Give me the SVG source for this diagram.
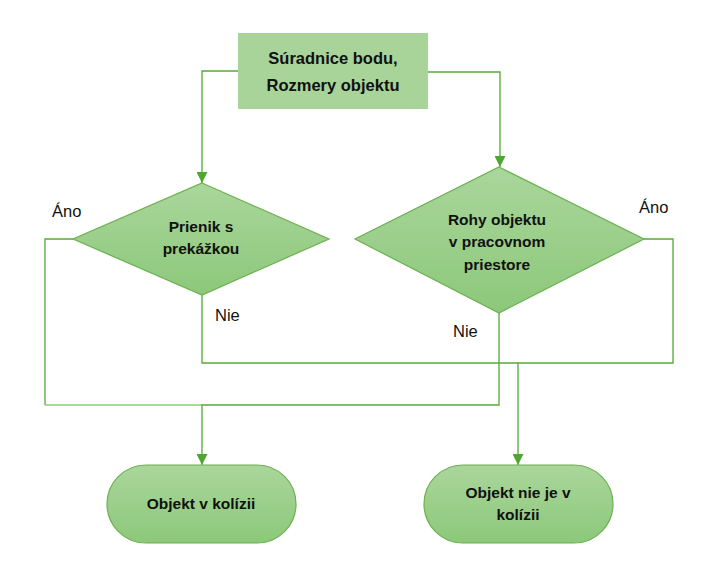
<svg xmlns="http://www.w3.org/2000/svg" width="708" height="575" viewBox="0 0 708 575">
<defs>
<linearGradient id="g" x1="0" y1="0" x2="0" y2="1">
<stop offset="0" stop-color="#aad69c"/>
<stop offset="1" stop-color="#8cc87a"/>
</linearGradient>
<marker id="ah" viewBox="0 0 10 10" refX="10" refY="5" markerWidth="11" markerHeight="11" markerUnits="userSpaceOnUse" orient="auto">
<path d="M0,0 L10,5 L0,10 z" fill="#4ea72e"/>
</marker>
<style>
.shape{fill:url(#g);stroke:#6cb04f;stroke-width:1.2}
.box{fill:#a8d49a}
.t{font-family:"Liberation Sans",Arial,sans-serif;font-weight:bold;font-size:15.5px;fill:#111;text-anchor:middle}
.t16{font-size:16.5px}
.lbl{font-family:"Liberation Sans",Arial,sans-serif;font-size:16.5px;fill:#111}
.c{fill:none;stroke:#55a93a;stroke-width:1.3}
.cl{fill:none;stroke:#8fcc78;stroke-width:1.6}
</style>
</defs>
<g id="connectors">
<polyline class="c" points="238,71 202,71 202,183" marker-end="url(#ah)"/>
<polyline class="c" points="428,72 500,72 500,167" marker-end="url(#ah)"/>
<polyline class="c" points="73,239 45,239 45,405"/>
<line class="cl" x1="45" y1="405" x2="202" y2="405"/>
<polyline class="c" points="499,313 499,405 202,405 202,465" marker-end="url(#ah)"/>
<polyline class="c" points="202,295 202,363 518,363"/>
<polyline class="c" points="644,239 673,239 673,363 518,363 518,465" marker-end="url(#ah)"/>
</g>
<g id="n-start">
<rect class="box" x="238" y="33" width="190" height="76"/>
<text class="t t16" x="333" y="64">Súradnice bodu,</text>
<text class="t t16" x="333" y="91">Rozmery objektu</text>
</g>
<g id="n-prienik">
<polygon class="shape" points="202,183 329,239 202,295 73,239"/>
<text class="t" x="201" y="232">Prienik s</text>
<text class="t" x="201" y="254">prekážkou</text>
</g>
<g id="n-rohy">
<polygon class="shape" points="499,167 644,239 499,313 355,239"/>
<text class="t" x="497" y="225">Rohy objektu</text>
<text class="t" x="497" y="247">v pracovnom</text>
<text class="t" x="497" y="270">priestore</text>
</g>
<g id="n-kolizia">
<rect class="shape" x="107" y="465" width="189" height="78" rx="39" ry="39"/>
<text class="t" x="201" y="509">Objekt v kolízii</text>
</g>
<g id="n-nekolizia">
<rect class="shape" x="424" y="465" width="189" height="78" rx="39" ry="39"/>
<text class="t" x="518" y="498">Objekt nie je v</text>
<text class="t" x="518" y="520">kolízii</text>
</g>
<g id="labels">
<text class="lbl" x="52" y="217">Áno</text>
<text class="lbl" x="215" y="321">Nie</text>
<text class="lbl" x="639" y="213">Áno</text>
<text class="lbl" x="453" y="337">Nie</text>
</g>
</svg>
